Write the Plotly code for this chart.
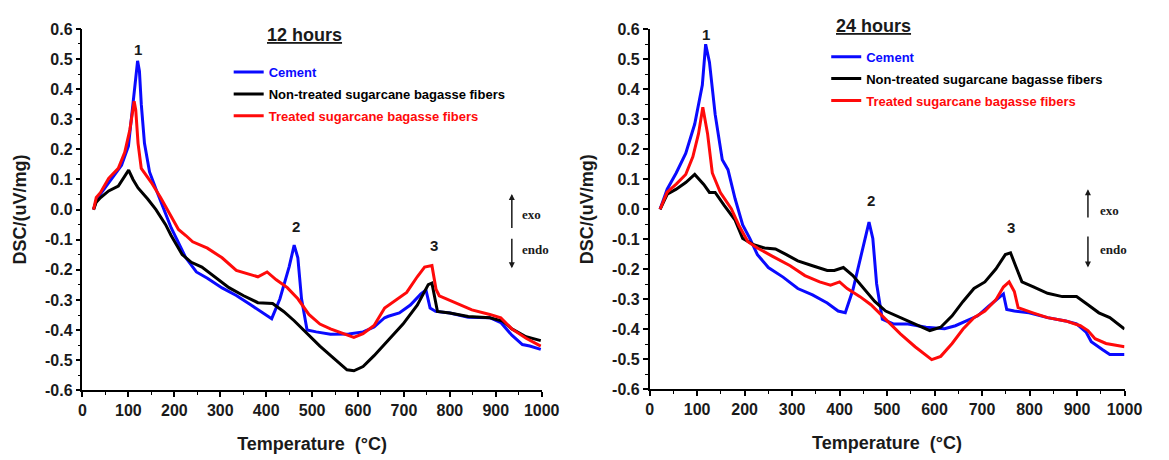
import plotly.graph_objects as go

# ---------------- data ----------------
# 12 hours
L_CEM_X = [24, 30, 43, 64, 85, 100, 110, 116, 120, 124, 128, 135, 146, 162, 177, 193, 205, 225, 248, 272, 304, 335, 367, 398, 412, 430, 450, 461, 469, 477, 489, 509, 540, 580, 611, 635, 658, 666, 690, 714, 737, 748, 757, 769, 800, 840, 887, 911, 935, 958, 974, 998]
L_CEM_Y = [0.0, 0.03, 0.06, 0.104, 0.147, 0.211, 0.35, 0.45, 0.494, 0.46, 0.35, 0.22, 0.125, 0.06, 0.0, -0.06, -0.097, -0.16, -0.207, -0.228, -0.26, -0.285, -0.317, -0.348, -0.362, -0.296, -0.19, -0.118, -0.16, -0.296, -0.40, -0.406, -0.414, -0.413, -0.406, -0.39, -0.359, -0.354, -0.343, -0.317, -0.28, -0.267, -0.327, -0.338, -0.343, -0.357, -0.359, -0.375, -0.417, -0.448, -0.453, -0.464]

L_NT_X = [24, 30, 39.5, 57, 78, 92, 100.5, 110, 121, 142, 160, 181, 193, 217, 237, 260, 288, 319, 351, 382, 414, 438, 461, 485, 517, 548, 576, 591, 611, 635, 666, 698, 729, 753, 761, 773, 800, 840, 887, 915, 935, 966, 998]
L_NT_Y = [0.0, 0.025, 0.04, 0.062, 0.078, 0.11, 0.131, 0.10, 0.072, 0.035, 0.0, -0.05, -0.086, -0.149, -0.175, -0.191, -0.223, -0.259, -0.286, -0.309, -0.312, -0.338, -0.369, -0.406, -0.453, -0.495, -0.532, -0.535, -0.521, -0.485, -0.432, -0.38, -0.317, -0.249, -0.244, -0.338, -0.343, -0.355, -0.359, -0.37, -0.396, -0.422, -0.435]

L_TR_X = [24, 30, 39, 57, 78, 92, 103, 108, 112.5, 116, 121, 128, 139, 150, 170, 193, 209, 225, 240, 272, 304, 335, 367, 382, 402, 422, 446, 469, 493, 517, 540, 572, 591, 611, 635, 658, 682, 706, 729, 745, 761, 770, 777, 808, 848, 887, 911, 935, 966, 998]
L_TR_Y = [0.0, 0.04, 0.056, 0.104, 0.137, 0.19, 0.264, 0.32, 0.36, 0.33, 0.22, 0.137, 0.115, 0.09, 0.04, -0.023, -0.066, -0.086, -0.107, -0.128, -0.16, -0.202, -0.217, -0.223, -0.207, -0.233, -0.259, -0.296, -0.348, -0.38, -0.396, -0.412, -0.424, -0.412, -0.385, -0.327, -0.301, -0.275, -0.223, -0.191, -0.186, -0.265, -0.286, -0.307, -0.333, -0.348, -0.359, -0.396, -0.427, -0.453]

# 24 hours
R_CEM_X = [22, 37, 56, 76, 95, 105, 111, 118, 126, 138, 153, 165, 180, 196, 211, 227, 250, 281, 312, 343, 374, 397, 412, 428, 447, 462, 470, 478, 490, 513, 544, 582, 621, 644, 667, 691, 714, 737, 745, 752, 768, 799, 838, 876, 899, 919, 930, 954, 969, 1000]
R_CEM_Y = [0.0, 0.067, 0.121, 0.186, 0.284, 0.36, 0.414, 0.55, 0.49, 0.316, 0.165, 0.132, 0.035, -0.052, -0.097, -0.151, -0.194, -0.226, -0.264, -0.285, -0.312, -0.339, -0.345, -0.269, -0.14, -0.043, -0.097, -0.248, -0.366, -0.382, -0.382, -0.393, -0.398, -0.388, -0.372, -0.355, -0.323, -0.291, -0.282, -0.334, -0.339, -0.345, -0.361, -0.372, -0.382, -0.409, -0.441, -0.468, -0.484, -0.484]

R_NT_X = [22, 37, 56, 76, 95, 114, 126, 138, 157, 180, 196, 219, 242, 265, 288, 312, 343, 374, 389, 408, 428, 451, 474, 497, 528, 559, 590, 613, 637, 660, 683, 706, 729, 749, 760, 772, 784, 807, 838, 869, 899, 923, 946, 969, 1000]
R_NT_Y = [0.0, 0.05, 0.067, 0.089, 0.116, 0.083, 0.056, 0.056, 0.013, -0.036, -0.097, -0.118, -0.129, -0.132, -0.151, -0.172, -0.188, -0.204, -0.204, -0.194, -0.221, -0.264, -0.307, -0.339, -0.361, -0.382, -0.404, -0.393, -0.355, -0.307, -0.264, -0.242, -0.199, -0.151, -0.145, -0.194, -0.242, -0.258, -0.280, -0.291, -0.291, -0.318, -0.345, -0.361, -0.399]

R_TR_X = [22, 37, 56, 76, 91, 103, 112, 122, 132, 149, 172, 188, 207, 227, 258, 296, 327, 358, 381, 400, 416, 443, 466, 497, 528, 559, 594, 613, 637, 660, 683, 706, 729, 745, 757, 768, 776, 807, 838, 876, 907, 923, 938, 961, 1000]
R_TR_Y = [0.0, 0.057, 0.084, 0.116, 0.175, 0.252, 0.34, 0.252, 0.121, 0.056, 0.002, -0.054, -0.108, -0.129, -0.156, -0.188, -0.221, -0.242, -0.253, -0.242, -0.264, -0.291, -0.318, -0.366, -0.415, -0.458, -0.501, -0.490, -0.447, -0.399, -0.361, -0.339, -0.302, -0.259, -0.242, -0.274, -0.328, -0.345, -0.361, -0.372, -0.388, -0.404, -0.431, -0.447, -0.458]

SERIES_NAMES = ["Cement", "Non-treated sugarcane bagasse fibers", "Treated sugarcane bagasse fibers"]
SERIES_COLORS = ["#0a0aff", "#000000", "#ff0a0a"]
PANEL_TITLES = ["12 hours", "24 hours"]
PEAK_LABELS = ["1", "2", "3"]
X_TICKS = [0, 100, 200, 300, 400, 500, 600, 700, 800, 900, 1000]
X_TICK_LABELS = ["0", "100", "200", "300", "400", "500", "600", "700", "800", "900", "1000"]
Y_TICKS = [-0.6, -0.5, -0.4, -0.3, -0.2, -0.1, 0.0, 0.1, 0.2, 0.3, 0.4, 0.5, 0.6]
Y_TICK_LABELS = ["-0.6", "-0.5", "-0.4", "-0.3", "-0.2", "-0.1", "0.0", "0.1", "0.2", "0.3", "0.4", "0.5", "0.6"]
X_TITLE = "Temperature\u00a0 (°C)"
Y_TITLE = "DSC/(uV/mg)"

FONT = "Liberation Sans, Arial, sans-serif"
SERIF = "Liberation Serif, Times New Roman, serif"
INK = "#1a1a1a"

fig = go.Figure()

panels = [
    ("x", "y", "legend", [(L_CEM_X, L_CEM_Y), (L_NT_X, L_NT_Y), (L_TR_X, L_TR_Y)]),
    ("x2", "y2", "legend2", [(R_CEM_X, R_CEM_Y), (R_NT_X, R_NT_Y), (R_TR_X, R_TR_Y)]),
]
for xa, ya, lg, data in panels:
    for i, (xs, ys) in enumerate(data):
        fig.add_trace(go.Scatter(
            x=xs, y=ys, mode="lines", xaxis=xa, yaxis=ya, legend=lg,
            legendgroup=f"{lg}{i}",
            name=f"<span style='color:{SERIES_COLORS[i]}'>{SERIES_NAMES[i]}</span>",
            line=dict(color=SERIES_COLORS[i], width=3),
        ))

axis_common = dict(
    showline=True, linecolor="black", linewidth=1.5, mirror=False,
    ticks="outside", ticklen=5, tickwidth=1.5, tickcolor="black",
    showgrid=False, zeroline=False,
    tickfont=dict(family=FONT, size=16, color=INK, weight="bold"),
)
xaxis_common = dict(axis_common, range=[0, 1000], tickmode="array",
                    tickvals=X_TICKS, ticktext=X_TICK_LABELS,
                    minor=dict(tickmode="linear", tick0=0, dtick=50, ticks="outside", ticklen=3, tickwidth=1.2, tickcolor="black"),
                    title=dict(text=X_TITLE, font=dict(family=FONT, size=18, color=INK, weight="bold"), standoff=19))
yaxis_common = dict(axis_common, range=[-0.6, 0.6], tickmode="array",
                    tickvals=Y_TICKS, ticktext=Y_TICK_LABELS,
                    minor=dict(tickmode="linear", tick0=0, dtick=0.05, ticks="outside", ticklen=3, tickwidth=1.2, tickcolor="black"),
                    title=dict(text=Y_TITLE, font=dict(family=FONT, size=18, color=INK, weight="bold"), standoff=14))

W, H = 1169, 460
fig.update_layout(
    width=W, height=H, margin=dict(l=0, r=0, t=0, b=0),
    paper_bgcolor="white", plot_bgcolor="white",
    font=dict(family=FONT, color=INK),
    xaxis=dict(xaxis_common, domain=[80 / W, 548 / W], anchor="y"),
    yaxis=dict(yaxis_common, domain=[1 - 397 / H, 1 - 21.7 / H], anchor="x"),
    xaxis2=dict(xaxis_common, domain=[658 / W, 1142 / W], anchor="y2"),
    yaxis2=dict(yaxis_common, domain=[1 - 396 / H, 1 - 22 / H], anchor="x2"),
    legend=dict(x=229 / W, y=1 - 51 / H, xanchor="left", yanchor="top",
                bgcolor="rgba(0,0,0,0)", borderwidth=0, tracegroupgap=2,
                font=dict(family=FONT, size=13, weight="bold")),
    legend2=dict(x=838 / W, y=1 - 35 / H, xanchor="left", yanchor="top",
                 bgcolor="rgba(0,0,0,0)", borderwidth=0, tracegroupgap=2,
                 font=dict(family=FONT, size=13, weight="bold")),
)

# panel titles (paper coords, above the plot areas)
title_paper = [(306 / W, 1 - 28 / H), (886 / W, 1 - 19 / H)]
for p in range(2):
    fig.add_annotation(x=title_paper[p][0], y=title_paper[p][1], xref="paper", yref="paper",
                       xanchor="center", yanchor="middle",
                       text=PANEL_TITLES[p], showarrow=False,
                       font=dict(family=FONT, size=18, color=INK, weight="bold", lineposition="under"))

# peak labels, exo/endo arrows (data coords)
peak_pos = [[(120, 0.533), (465, -0.055), (765, -0.118)],
            [(118, 0.582), (466, 0.029), (760, -0.06)]]
arrow_x = [935, 923]
exo_up = [(-0.066, 0.052), (-0.032, 0.067)]
endo_dn = [(-0.092, -0.195), (-0.086, -0.194)]
text_x = [952, 944]
exo_y = [-0.015, -0.003]
endo_y = [-0.134, -0.134]

for p, (xr, yr) in enumerate([("x", "y"), ("x2", "y2")]):
    for k, (px, py) in enumerate(peak_pos[p]):
        fig.add_annotation(x=px, y=py, xref=xr, yref=yr, text=PEAK_LABELS[k], showarrow=False,
                           font=dict(family=FONT, size=15, color=INK, weight="bold"))
    ax = arrow_x[p]
    fig.add_annotation(x=ax, y=exo_up[p][1], ax=ax, ay=exo_up[p][0], xref=xr, yref=yr,
                       axref=xr, ayref=yr, text="", showarrow=True, arrowhead=2,
                       arrowsize=0.8, arrowwidth=1.5, arrowcolor=INK)
    fig.add_annotation(x=ax, y=endo_dn[p][1], ax=ax, ay=endo_dn[p][0], xref=xr, yref=yr,
                       axref=xr, ayref=yr, text="", showarrow=True, arrowhead=2,
                       arrowsize=0.8, arrowwidth=1.5, arrowcolor=INK)
    fig.add_annotation(x=text_x[p], y=exo_y[p], xref=xr, yref=yr, text="exo", showarrow=False,
                       xanchor="left", font=dict(family=SERIF, size=13, color=INK, weight="bold"))
    fig.add_annotation(x=text_x[p], y=endo_y[p], xref=xr, yref=yr, text="endo", showarrow=False,
                       xanchor="left", font=dict(family=SERIF, size=13, color=INK, weight="bold"))

fig.write_html("out.html")
